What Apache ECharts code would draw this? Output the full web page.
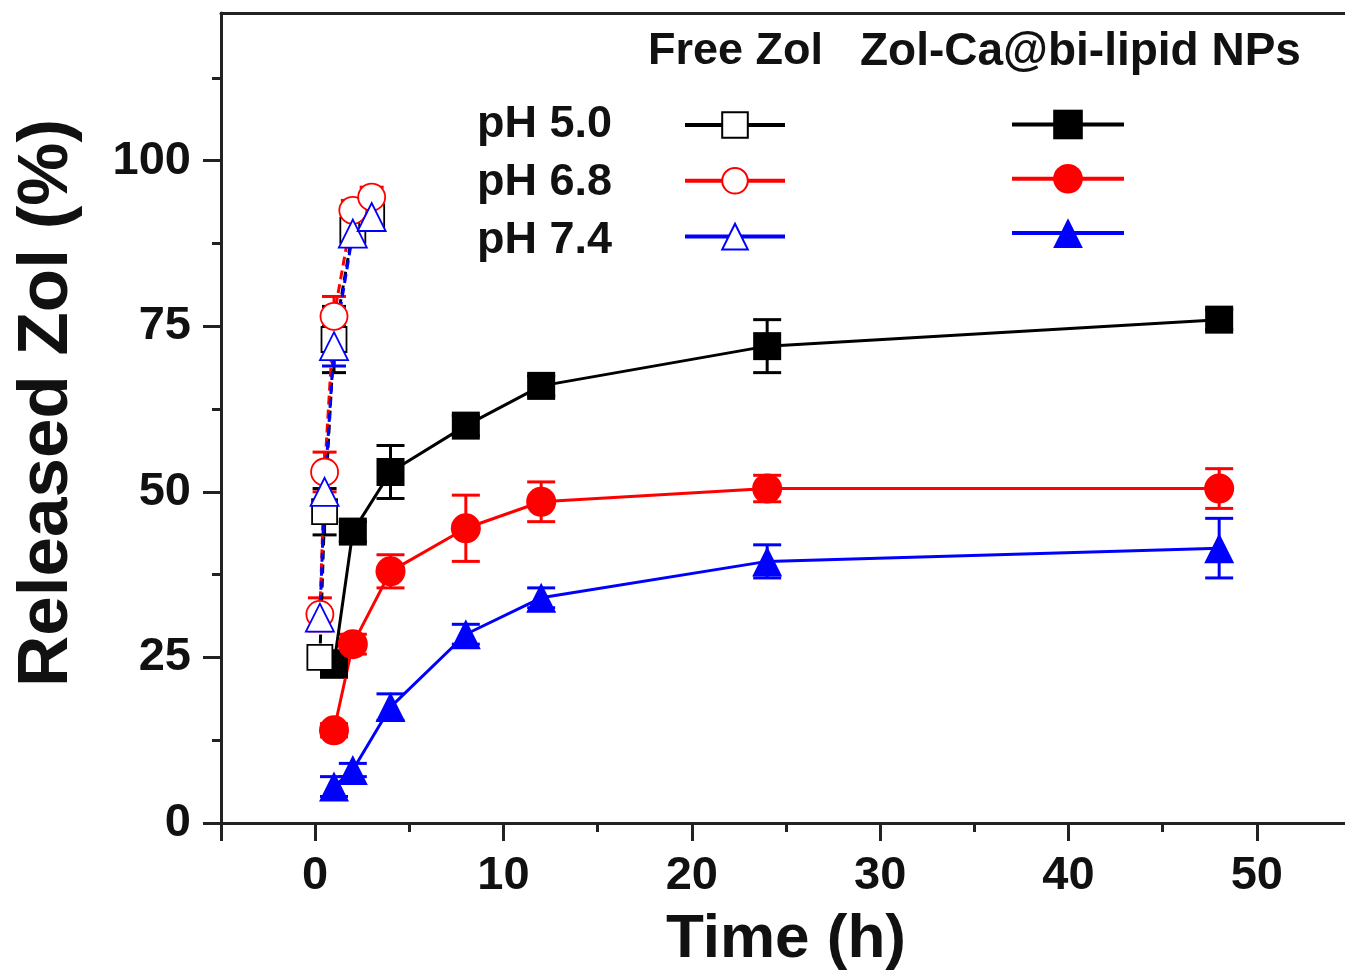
<!DOCTYPE html>
<html><head><meta charset="utf-8">
<script src="https://cdn.jsdelivr.net/npm/echarts@6/dist/echarts.min.js"></script>
<style>html,body{margin:0;padding:0;background:#fff;}#c{width:1345px;height:973px;}</style>
</head><body><div id="c"></div>
<script>
// ---- data ----
const freeTime = [0.25, 0.5, 1, 2, 3];
const freePH50 = [25, 47, 73, 89.5, 91.5];
const freePH50Err = [1.5, 3.5, 5, 2, 2];
const freePH68 = [31.5, 53, 76.5, 92.5, 94.5];
const freePH68Err = [2.5, 3, 3, 1.5, 1.5];
const freePH74 = [31, 50, 72, 89, 91.5];
const freePH74Err = [1.5, 2.5, 3, 1.5, 1.5];

const npTime = [1, 2, 4, 8, 12, 24, 48];
const npPH50 = [24, 44, 53, 60, 66, 72, 76];
const npPH50Err = [2, 1.5, 4, 1.5, 1.5, 4, 1.5];
const npPH68 = [14, 27, 38, 44.5, 48.5, 50.5, 50.5];
const npPH68Err = [1, 1.5, 2.5, 5, 3, 2, 3];
const npPH74 = [5.5, 8, 17.5, 28.5, 34, 39.5, 41.5];
const npPH74Err = [1.5, 1, 2, 1.5, 1.5, 2.5, 4.5];

const yTicks = [0, 25, 50, 75, 100];
const phLabels = ['pH 5.0', 'pH 6.8', 'pH 7.4'];
const groupLabels = ['Free Zol', 'Zol-Ca@bi-lipid NPs'];
const xName = 'Time (h)';
const yName = 'Released Zol (%)';

// ---- helpers ----
const FONT = '"Liberation Sans", Arial, sans-serif';
const zip = (xs, ys) => xs.map((x, i) => [x, ys[i]]);
const zip3 = (xs, ys, es) => xs.map((x, i) => [x, ys[i], es[i]]);

function errSeries(xs, ys, es, color, cap) {
  return {
    type: 'custom',
    data: zip3(xs, ys, es),
    encode: { x: 0, y: 1 },
    silent: true,
    clip: false,
    renderItem: function (params, api) {
      const x = api.value(0), y = api.value(1), e = api.value(2);
      const t = api.coord([x, y + e]);
      const b = api.coord([x, y - e]);
      const hw = cap / 2;
      const st = { stroke: color, lineWidth: 3 };
      return {
        type: 'group',
        children: [
          { type: 'line', shape: { x1: t[0], y1: t[1], x2: b[0], y2: b[1] }, style: st },
          { type: 'line', shape: { x1: t[0] - hw, y1: t[1], x2: t[0] + hw, y2: t[1] }, style: st },
          { type: 'line', shape: { x1: b[0] - hw, y1: b[1], x2: b[0] + hw, y2: b[1] }, style: st }
        ]
      };
    }
  };
}

function npSeries(name, xs, ys, color, symbol, size) {
  return {
    name: name, type: 'line', data: zip(xs, ys),
    symbol: symbol, symbolSize: size,
    lineStyle: { color: color, width: 3 },
    itemStyle: { color: color, borderColor: color, borderWidth: 0 },
    emphasis: { disabled: true }
  };
}
function freeSeries(name, xs, ys, color, symbol, size) {
  return {
    name: name, type: 'line', data: zip(xs, ys),
    symbol: symbol, symbolSize: size,
    lineStyle: { color: color, width: 3, type: [9, 5] },
    itemStyle: { color: '#ffffff', borderColor: color, borderWidth: 1.8 },
    emphasis: { disabled: true }
  };
}

const C_BLK = '#000000', C_RED = '#ff0000', C_BLU = '#0000ff';
const nFree = ['Free ' + phLabels[0], 'Free ' + phLabels[1], 'Free ' + phLabels[2]];
const nNP = ['NP ' + phLabels[0], 'NP ' + phLabels[1], 'NP ' + phLabels[2]];

const series = [
  errSeries(npTime, npPH50, npPH50Err, C_BLK, 28),
  npSeries(nNP[0], npTime, npPH50, C_BLK, 'rect', 28),
  errSeries(npTime, npPH68, npPH68Err, C_RED, 28),
  npSeries(nNP[1], npTime, npPH68, C_RED, 'circle', 30),
  errSeries(npTime, npPH74, npPH74Err, C_BLU, 28),
  npSeries(nNP[2], npTime, npPH74, C_BLU, 'triangle', 30),
  errSeries(freeTime, freePH50, freePH50Err, C_BLK, 24),
  freeSeries(nFree[0], freeTime, freePH50, C_BLK, 'rect', 25),
  errSeries(freeTime, freePH68, freePH68Err, C_RED, 24),
  freeSeries(nFree[1], freeTime, freePH68, C_RED, 'circle', 27),
  errSeries(freeTime, freePH74, freePH74Err, C_BLU, 24),
  freeSeries(nFree[2], freeTime, freePH74, C_BLU, 'triangle', 28)
];

const axisLineX = { show: true, onZero: false, lineStyle: { color: '#222', width: 3 } };
const axisLineY = { show: true, onZero: false, lineStyle: { color: '#222', width: 3 } };
const labelStyle = { color: '#111', fontFamily: FONT, fontWeight: 'bold', fontSize: 47 };

const option = {
  backgroundColor: '#fff',
  animation: false,
  grid: { left: 221, top: 13, width: 1130, height: 810, containLabel: false, outerBoundsMode: 'none' },
  xAxis: [{
    type: 'value', min: -5, max: 55, splitNumber: 6,
    name: xName, nameLocation: 'middle', nameGap: 86,
    nameTextStyle: { color: '#111', fontFamily: FONT, fontWeight: 'bold', fontSize: 62 },
    axisLine: axisLineX,
    axisTick: { show: true, inside: false, length: 18, lineStyle: { color: '#222', width: 3 } },
    minorTick: { show: true, splitNumber: 2, length: 9, lineStyle: { color: '#222', width: 3 } },
    splitLine: { show: false },
    axisLabel: Object.assign({ margin: 30, formatter: v => (Math.abs(v % 10) < 1e-9 ? String(Math.round(v)) : '') }, labelStyle)
  }, {
    type: 'value', min: -5, max: 55, position: 'top',
    axisLine: axisLineX, axisTick: { show: false }, axisLabel: { show: false }, splitLine: { show: false }
  }],
  yAxis: [{
    type: 'value', min: 0, max: 122.3, interval: 25,
    name: yName, nameLocation: 'middle', nameGap: 138,
    nameTextStyle: { color: '#111', fontFamily: FONT, fontWeight: 'bold', fontSize: 71, padding: [0, 0, 0, 30] },
    axisLine: axisLineY,
    axisTick: { show: true, inside: false, length: 18, customValues: yTicks, lineStyle: { color: '#222', width: 3 } },
    minorTick: { show: true, splitNumber: 2, length: 9, lineStyle: { color: '#222', width: 3 } },
    splitLine: { show: false },
    axisLabel: Object.assign({ margin: 30, customValues: yTicks, formatter: v => String(v) }, labelStyle)
  }],
  legend: [{
    data: nFree, orient: 'vertical', left: 683, top: 109, padding: 0,
    itemWidth: 100, itemHeight: 32, itemGap: 26,
    formatter: () => '', selectedMode: false,
    lineStyle: { type: 'solid', width: 4 },
    textStyle: { fontSize: 1 }
  }, {
    data: nNP, orient: 'vertical', left: 1010, top: 106, padding: 0,
    itemWidth: 112, itemHeight: 37, itemGap: 21,
    formatter: () => '', selectedMode: false,
    lineStyle: { type: 'solid', width: 4 },
    textStyle: { fontSize: 1 }
  }],
  graphic: [
    { type: 'text', x: 648, y: 52, style: { text: groupLabels[0], font: 'bold 45px ' + FONT, fill: '#111', verticalAlign: 'middle' } },
    { type: 'text', x: 860, y: 52, style: { text: groupLabels[1], font: 'bold 46px ' + FONT, fill: '#111', verticalAlign: 'middle' } },
    { type: 'text', x: 477, y: 125, style: { text: phLabels[0], font: 'bold 45px ' + FONT, fill: '#111', verticalAlign: 'middle' } },
    { type: 'text', x: 477, y: 183, style: { text: phLabels[1], font: 'bold 45px ' + FONT, fill: '#111', verticalAlign: 'middle' } },
    { type: 'text', x: 477, y: 241, style: { text: phLabels[2], font: 'bold 45px ' + FONT, fill: '#111', verticalAlign: 'middle' } }
  ],
  series: series
};

const chart = echarts.init(document.getElementById('c'), null, { renderer: 'canvas' });
chart.setOption(option);
</script>
</body></html>
